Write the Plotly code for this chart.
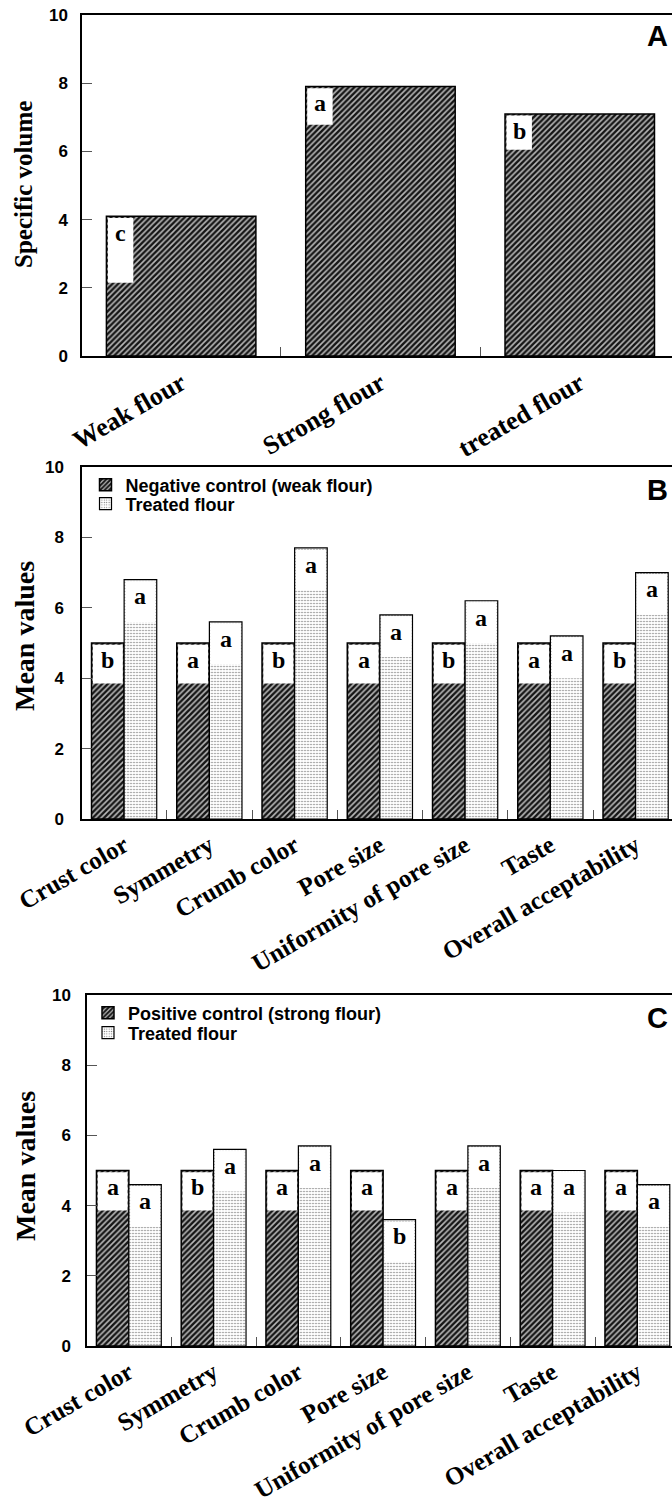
import plotly.graph_objects as go

# ---------------- data ----------------
# A: specific volume of the loaves
flour_types = ["Weak flour", "Strong flour", "treated flour"]
specific_volume = [4.1, 7.9, 7.1]
volume_letters = ["c", "a", "b"]

# B and C: sensory attributes
attributes = ["Crust color", "Symmetry", "Crumb color", "Pore size",
              "Uniformity of pore size", "Taste", "Overall acceptability"]

# B: negative control (weak flour) vs treated flour
weak_scores = [5.0, 5.0, 5.0, 5.0, 5.0, 5.0, 5.0]
treated_b_scores = [6.8, 5.6, 7.7, 5.8, 6.2, 5.2, 7.0]
weak_letters = ["b", "a", "b", "a", "b", "a", "b"]
treated_b_letters = ["a", "a", "a", "a", "a", "a", "a"]

# C: positive control (strong flour) vs treated flour
strong_scores = [5.0, 5.0, 5.0, 5.0, 5.0, 5.0, 5.0]
treated_c_scores = [4.6, 5.6, 5.7, 3.6, 5.7, 5.0, 4.6]
strong_letters = ["a", "b", "a", "a", "a", "a", "a"]
treated_c_letters = ["a", "a", "a", "b", "a", "a", "a"]

y_ticks = [0, 2, 4, 6, 8, 10]

# ---------------- styling ----------------
W, H = 672, 1510
SERIF = "Liberation Serif, Times New Roman, serif"
SANS = "Liberation Sans, Arial, sans-serif"

HATCH = dict(color="#151515", line=dict(color="black", width=1.5),
             pattern=dict(shape="/", fgcolor="#151515", bgcolor="#b8b8b8",
                          size=4, solidity=0.6, fillmode="replace"))
DOTS = dict(color="#777777", line=dict(color="black", width=1.2),
            pattern=dict(shape=".", fgcolor="#777777", bgcolor="white",
                         size=3, solidity=0.2, fillmode="replace"))

GAP_A = 0.25
GAP_BC = 0.235


def px_y(p):
    """pixel row -> paper fraction"""
    return (H - p) / H


def px_x(p):
    return p / W


fig = go.Figure()

# ---- panel A ----
fig.add_trace(go.Bar(x=flour_types, y=specific_volume, marker=HATCH,
                     width=1 - GAP_A, showlegend=False,
                     xaxis="x", yaxis="y"))

# ---- panel B ----
fig.add_trace(go.Bar(x=attributes, y=weak_scores, marker=HATCH,
                     name="Negative control (weak flour)",
                     xaxis="x2", yaxis="y2", legend="legend"))
fig.add_trace(go.Bar(x=attributes, y=treated_b_scores, marker=DOTS,
                     name="Treated flour",
                     xaxis="x2", yaxis="y2", legend="legend2"))

# ---- panel C ----
fig.add_trace(go.Bar(x=attributes, y=strong_scores, marker=HATCH,
                     name="Positive control (strong flour)",
                     xaxis="x3", yaxis="y3", legend="legend3"))
fig.add_trace(go.Bar(x=attributes, y=treated_c_scores, marker=DOTS,
                     name="Treated flour",
                     xaxis="x3", yaxis="y3", legend="legend4"))


def letter_boxes(ax, values, letters, bargap, slot, n_slots, depth,
                 frac=(0.04, 0.96), top_pad=0.05, size=24):
    """White label boxes with significance letters near the top of bars."""
    group_w = 1 - bargap
    bar_w = group_w / n_slots
    depths = depth if isinstance(depth, (list, tuple)) else [depth] * len(values)
    for i, (v, letter, d) in enumerate(zip(values, letters, depths)):
        left = i - group_w / 2 + slot * bar_w
        x0 = left + frac[0] * bar_w
        x1 = left + frac[1] * bar_w
        fig.add_shape(type="rect", xref=f"x{ax}", yref=f"y{ax}",
                      x0=x0, x1=x1, y0=v - d, y1=v - top_pad,
                      fillcolor="white", line_width=0, layer="above")
        fig.add_annotation(xref=f"x{ax}", yref=f"y{ax}", x=(x0 + x1) / 2,
                           y=v - top_pad, text=f"<b>{letter}</b>",
                           yanchor="top", xanchor="center", yshift=0,
                           showarrow=False,
                           font=dict(family=SERIF, size=size, color="black"))


letter_boxes("", specific_volume, volume_letters, GAP_A, 0, 1,
             [1.95, 1.12, 1.05], frac=(0.01, 0.18))
letter_boxes("2", weak_scores, weak_letters, GAP_BC, 0, 2, 1.15)
letter_boxes("2", treated_b_scores, treated_b_letters, GAP_BC, 1, 2, 1.2)
letter_boxes("3", strong_scores, strong_letters, GAP_BC, 0, 2, 1.14)
letter_boxes("3", treated_c_scores, treated_c_letters, GAP_BC, 1, 2, 1.2)


def x_axis(cats, left_px, cat_px, yname, size):
    return dict(
        type="category", categoryorder="array", categoryarray=cats,
        domain=[px_x(left_px), 1.0],
        range=[-0.5, -0.5 + (W - left_px) / cat_px],
        anchor=yname, showline=True, linecolor="black", linewidth=2.2,
        mirror=True, ticks="inside", tickson="boundaries", ticklen=9,
        tickcolor="#555", tickwidth=1, tickangle=-30,
        tickfont=dict(family=SERIF, size=size, color="black", weight="bold"),
        showgrid=False, zeroline=False, fixedrange=True, automargin=False,
    )


def y_axis(top_px, bottom_px, xname, standoff, size):
    return dict(
        domain=[px_y(bottom_px), px_y(top_px)], range=[0, 10],
        tickvals=y_ticks, anchor=xname, showline=True, linecolor="black",
        linewidth=2.2, ticks="inside", ticklen=10, tickcolor="#555",
        tickwidth=1, ticklabelstandoff=standoff,
        tickfont=dict(family=SANS, size=size, color="black", weight="bold"),
        showgrid=False, zeroline=False, fixedrange=True, automargin=False,
    )


layout_axes = dict(
    xaxis=x_axis(flour_types, 81.5, 199.3, "y", 26),
    yaxis=y_axis(15, 356, "x", 8, 17),
    xaxis2=x_axis(attributes, 81.5, 85.25, "y2", 25),
    yaxis2=y_axis(467, 819, "x2", 12, 17),
    xaxis3=x_axis(attributes, 86.5, 84.75, "y3", 25),
    yaxis3=y_axis(995, 1346, "x3", 10, 17),
)


def legend_at(x_px, y_px):
    return dict(x=px_x(x_px), y=px_y(y_px), xanchor="left", yanchor="middle",
                bgcolor="rgba(0,0,0,0)", borderwidth=0,
                font=dict(family=SANS, size=18, color="black", weight="bold"),
                itemclick=False, itemdoubleclick=False)


# axis titles and panel letters
titles = [
    ("Specific volume", 24, 185, 25),
    ("Mean values", 25, 636, 28),
    ("Mean values", 25, 1166, 28),
]
for text, xp, yp, size in titles:
    fig.add_annotation(xref="paper", yref="paper", x=px_x(xp), y=px_y(yp),
                       text=f"<b>{text}</b>", textangle=-90, showarrow=False,
                       xanchor="center", yanchor="middle",
                       font=dict(family=SERIF, size=size, color="black"))

for text, yp in [("A", 36), ("B", 490), ("C", 1018)]:
    fig.add_annotation(xref="paper", yref="paper", x=px_x(670), y=px_y(yp),
                       text=f"<b>{text}</b>", showarrow=False,
                       xanchor="right", yanchor="middle",
                       font=dict(family=SANS, size=29, color="black"))

fig.update_layout(
    template="none",
    width=W, height=H, margin=dict(l=0, r=0, t=0, b=0, autoexpand=False),
    paper_bgcolor="white", plot_bgcolor="white",
    barmode="group", bargap=GAP_BC, bargroupgap=0,
    legend=legend_at(85.5, 485),
    legend2=legend_at(85.5, 504),
    legend3=legend_at(88, 1013),
    legend4=legend_at(88, 1033),
    **layout_axes,
)

fig.write_html("out.html")
